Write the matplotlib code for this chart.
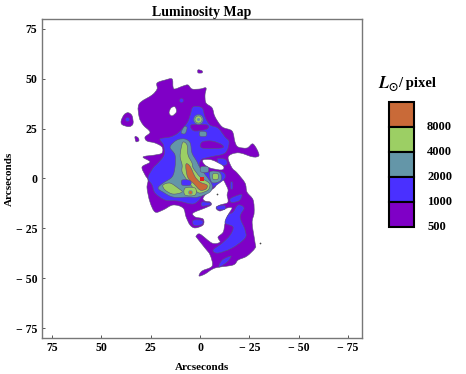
import numpy as np
import matplotlib
matplotlib.use("Agg")
import matplotlib.pyplot as plt
from matplotlib.path import Path
from matplotlib.patches import PathPatch, Rectangle

plt.rcParams['font.family'] = ['Liberation Serif', 'DejaVu Serif']
plt.rcParams['font.weight'] = 'bold'
plt.rcParams['mathtext.fontset'] = 'stix'

W, H = 466, 374
PURPLE, BLUE, TEAL, GREEN, ORANGE = '#7F00C6', '#4A30FF', '#6496A8', '#9CCF64', '#C96A38'
EDGE = '#5a5478'

legend_labels = ['8000', '4000', '2000', '1000', '500']
legend_colors = [ORANGE, GREEN, TEAL, BLUE, PURPLE]
xticks = [75, 50, 25, 0, -25, -50, -75]
yticks = [75, 50, 25, 0, -25, -50, -75]

# contour outlines, arcseconds (x, y)
c500_main = [(30.9,37.4),(24.3,41.9),(21.8,44.9),(21.8,47.9),(17.7,49.4),(14.2,49.9),(13.7,45.9),(12.7,44.9),(8.6,46.4),(6.1,46.9),(4.1,44.9),(0,44.9),(-3,45.4),(-2.5,41.9),(-3,37.9),(-6.1,35.4),(-7.6,30.9),(-11.2,25.9),(-16.2,23.8),(-17.7,18.3),(-19.3,15.8),(-23.8,15.3),(-26.9,17.3),(-29.9,11.8),(-26.9,10.8),(-20.3,12.8),(-16.2,12.3),(-14.2,10.3),(-16.2,5.3),(-18.8,2.8),(-22.8,-2.3),(-23.8,-6.8),(-26.9,-10.8),(-27.4,-17.3),(-26.4,-22.3),(-27.9,-32.4),(-27.9,-34.9),(-23.8,-38.9),(-19.3,-40.9),(-16.7,-43.4),(-7.6,-44.9),(-2.5,-47.9),(0.5,-48.9),(-1,-46.4),(-6.1,-43.9),(-5.1,-38.4),(-2.5,-34.9),(1.5,-29.9),(2,-28.9),(0,-27.9),(-6.1,-32.4),(-10.1,-31.9),(-9.1,-29.4),(-11.7,-26.9),(-12.7,-22.3),(-14.2,-18.3),(-16.2,-14.8),(-13.7,-14.8),(-10.1,-16.3),(-8.1,-14.8),(-10.1,-13.3),(-13.7,-12.3),(-14.2,-10.8),(-13.7,-8.3),(-14.2,-5.8),(-13.2,-3.3),(-11.7,-0.8),(-9.1,-0.8),(-7.6,-4.3),(-4,-6.8),(-1.5,-9.8),(-2.5,-11.3),(-5.1,-11.8),(-5.6,-13.3),(-2.5,-14.8),(3.5,-17.3),(2.5,-19.3),(-1.5,-20.3),(-1.5,-23.3),(2.5,-24.8),(5.1,-23.3),(7.1,-19.3),(8.6,-14.8),(13.7,-13.3),(18.8,-15.8),(22.8,-16.8),(25.4,-11.8),(26.9,-4.8),(26.4,-0.8),(27.9,1.8),(29.4,5.8),(25.4,8.3),(28.9,10.8),(22.8,11.8),(19.3,12.8),(19.3,15.8),(22.8,17.8),(26.9,18.8),(27.9,20.8),(25.4,23.3),(28.9,26.9),(30.9,30.9)]
c500_left = [(36.5,33),(34.5,31.5),(34,27.5),(36,26),(39.5,27),(40,29),(38.5,32)]
c500_small = [(33,21),(31.5,20.5),(31,19),(32.5,18.5)]
c500_top = [(1,54.5),(-1,54),(-1,53),(1,53)]
hole_notch = [(-1.5,9.3),(-6,9.3),(-11.7,6.3),(-11,4.3),(-5,5.3),(-2,7.3)]
hole_small = [(12.7,35.9),(12,33.4),(14.2,31.4),(15.7,32.9),(14.7,35.4)]
c1000_main = [(3.5,35.9),(-1,35.4),(-2.5,30.9),(-5,26.9),(-9.1,25.3),(-12.7,20.8),(-14.7,18.3),(-12.7,12.8),(-5,10.8),(-0.5,9.3),(0,5.3),(-4,3.3),(-11.2,3.3),(-12.7,0.3),(-7.6,-3.8),(-4,-5.8),(-1,-8.8),(1,-11.3),(4.1,-12.8),(11.2,-11.3),(17.7,-10.8),(22.8,-7.3),(24.3,-3.3),(26.4,0.3),(23.8,5.3),(21.3,7.8),(18.3,11.8),(18.6,16.8),(20.3,19.8),(15.2,20.8),(11.2,22.8),(6.6,27.9),(5,31.9)]
c1000_arm = [(-19.3,-13.3),(-22.3,-14.8),(-20.3,-19.3),(-22.8,-25.8),(-22.8,-29.9),(-16.2,-34.9),(-9.1,-37.4),(-6.6,-35.9),(-11.2,-32.4),(-15.2,-28.4),(-16.7,-24.3),(-12.7,-22.3),(-14.2,-18.3),(-16.7,-16.8)]
c1000_low = [(-15.7,-38.9),(-13.7,-41.9),(-9.6,-44.4),(-11.2,-40.9)]
c1000_a = [(-9,10),(-13,9.5),(-13.5,7),(-10,6.5),(-9,8)]
c1000_c = [(3.5,-21),(-1,-21),(-1,-23),(3,-23.5)]
c1000_d = [(-1,-11.8),(-5,-12.2),(-5,-13.2),(-1,-13.8)]
c1000_e = [(-8.5,-14),(-12.5,-13.5),(-12.5,-15.5),(-9,-15.5)]
c1000_f = [(-15.5,-10),(-21,-8),(-20,-11),(-16,-12)]
c1000_g = [(-15.5,-2),(-16.5,-2),(-16.5,-5),(-15.5,-5)]
dip_a = [(4,27),(-3.5,26.9),(-3.5,24.8),(2.5,23.8),(4.6,25.3)]
dip_b = [(-1,18.3),(-6,18.8),(-11,17),(-11,15.3),(-1,15.3)]
c2000_main = [(11.7,19.3),(7.6,19.8),(5,17.8),(4.1,12.8),(1.5,8.3),(0,5.3),(-3.5,0.8),(-6.1,-3.3),(-5,-6.8),(1,-9.3),(6.1,-9.3),(13.7,-9.3),(18.8,-6.8),(21.3,-4.8),(18.8,-2.3),(14.2,0.8),(12.7,5.8),(12.7,11.8),(15.2,15.8)]
c2000_right = [(-5,3.3),(-10,3),(-10.5,-1),(-6,-2)]
c2000_a = [(-0.5,5.8),(-4,5.8),(-4,3.3),(-0.5,3.3)]
c2000_b = [(9.6,23),(8,26),(6.6,25.5),(7.6,22.5)]
c2000_c = [(0,23.5),(-3,23.3),(-3,21.3),(0,21.3)]
dip_c = [(9.1,-0.8),(5,-1),(5,-3.3),(9,-3.3)]
c4000_upper = [(8.6,18.3),(6.6,16.8),(6.1,11.8),(4.1,7.8),(3.5,5.3),(0,0.8),(-4,-1.8),(-5,-3.3),(-4,-5.8),(0,-7.3),(2.5,-5.8),(6.6,-0.8),(9.1,3.3),(9.1,6.8),(10.1,10.8),(9.6,15.3)]
c4000_low = [(7.6,-4.8),(2.5,-4.8),(2.5,-8.3),(7.6,-8.3)]
c4000_left = [(18.8,-3.3),(15.2,-2.3),(11.2,-4.8),(9.1,-6.8),(13.7,-7.8),(17.7,-5.8)]
c4000_right = [(-6.6,2.3),(-9,2.3),(-9,-0.3),(-6.6,-0.3)]
c8000_main = [(7.1,7.3),(5.6,6.8),(4.1,4.3),(2.5,0.8),(0,-1.8),(-3.5,-3.3),(-3,-5.3),(0,-5.8),(3,-2.8),(6.1,0.3),(7.1,4.3)]

dots_x = [37.3, 9.6]
dots_y = [29.6, 39.4]
ring_x = [1.0]
ring_y = [29.9]
red_x = [-1.0]
red_y = [-0.3]
spot_x = [5.1]
spot_y = [-6.8]
speck_x = [-8.6, -30.4]
speck_y = [-7.8, -32.4]

fig = plt.figure(figsize=(W/100, H/100), dpi=100)
ax = fig.add_axes([41.5/W, 1-338/H, (362-41.5)/W, (338-19)/H])
ax.set_xlim(80.4, -82.1)
ax.set_ylim(-80, 80)

def smooth(points):
    p = np.array(points, float)
    n = len(p)
    verts = [p[0]]
    codes = [Path.MOVETO]
    for i in range(n):
        p0, p1, p2, p3 = p[i-1], p[i], p[(i+1) % n], p[(i+2) % n]
        verts += [p1+(p2-p0)/6, p2-(p3-p1)/6, p2]
        codes += [Path.CURVE4]*3
    return Path(verts, codes)

def blob(points, color, edge=EDGE, z=2):
    ax.add_patch(PathPatch(smooth(points), facecolor=color, edgecolor=edge, lw=0.4, zorder=z))

for o in [c500_main, c500_left, c500_small, c500_top]:
    blob(o, PURPLE, z=2)
for o in [c1000_main, c1000_arm, c1000_low, c1000_a, c1000_c, c1000_d, c1000_e, c1000_f, c1000_g]:
    blob(o, BLUE, z=3)
for o in [dip_a, dip_b]:
    blob(o, PURPLE, z=3.1)
for o in [hole_notch, hole_small]:
    blob(o, 'white', z=3.2)
for o in [c2000_main, c2000_right, c2000_a, c2000_b, c2000_c]:
    blob(o, TEAL, z=4)
for o in [c4000_upper, c4000_low, c4000_left, c4000_right]:
    blob(o, GREEN, z=5)
blob(dip_c, BLUE, z=5.1)
blob(c8000_main, ORANGE, z=6)

ax.scatter(dots_x, dots_y, s=8, c=BLUE, edgecolors=EDGE, linewidths=0.3, zorder=4)
ax.scatter(ring_x, ring_y, s=50, c=TEAL, edgecolors=EDGE, linewidths=0.3, zorder=4)
ax.scatter(ring_x, ring_y, s=26, c=GREEN, edgecolors=EDGE, linewidths=0.3, zorder=5)
ax.scatter(ring_x, ring_y, s=5, c=TEAL, linewidths=0, zorder=6)
ax.scatter(red_x, red_y, s=9, c='#E02020', linewidths=0, zorder=7, marker='s')
ax.scatter(spot_x, spot_y, s=8, c=ORANGE, edgecolors=TEAL, linewidths=0.5, zorder=7)
ax.scatter(speck_x, speck_y, s=1.5, c='#444444', linewidths=0, zorder=7)

ax.set_xticks(xticks)
ax.set_yticks(yticks)
fmt = lambda v: f"\u2212 {abs(v)}" if v < 0 else str(v)
ax.set_xticklabels([fmt(v) for v in xticks], fontsize=8.5, fontweight='bold')
ax.set_yticklabels([fmt(v) for v in yticks], fontsize=8.5, fontweight='bold')
ax.tick_params(direction='in', length=2.5, width=0.7, color='#555555', pad=3)
for s in ax.spines.values():
    s.set_color('#777777')
    s.set_linewidth(1.0)
ax.set_xlabel('Arcseconds', fontsize=8, fontweight='bold', labelpad=6)
ax.set_ylabel('Arcseconds', fontsize=8, fontweight='bold', labelpad=1)
ax.set_title('Luminosity Map', fontsize=10, fontweight='bold', pad=2.5)

# legend in figure pixels
lg = fig.add_axes([0, 0, 1, 1], facecolor='none')
lg.set_xlim(0, W)
lg.set_ylim(H, 0)
lg.axis('off')
top, step = 102, 25
for i, (c, lab) in enumerate(zip(legend_colors, legend_labels)):
    lg.add_patch(Rectangle((388.5, top+i*step), 25.5, step, facecolor=c, edgecolor='black', lw=1.5))
    lg.text(427, 127+i*25, lab, fontsize=9, fontweight='bold', va='center', ha='left')
lg.text(378, 84, r'$\mathbfit{L}_{\odot}$', fontsize=12, va='center', ha='left')
lg.text(398, 83, '/ pixel', fontsize=10.5, fontweight='bold', va='center', ha='left')

fig.savefig('out.png', dpi=100)
